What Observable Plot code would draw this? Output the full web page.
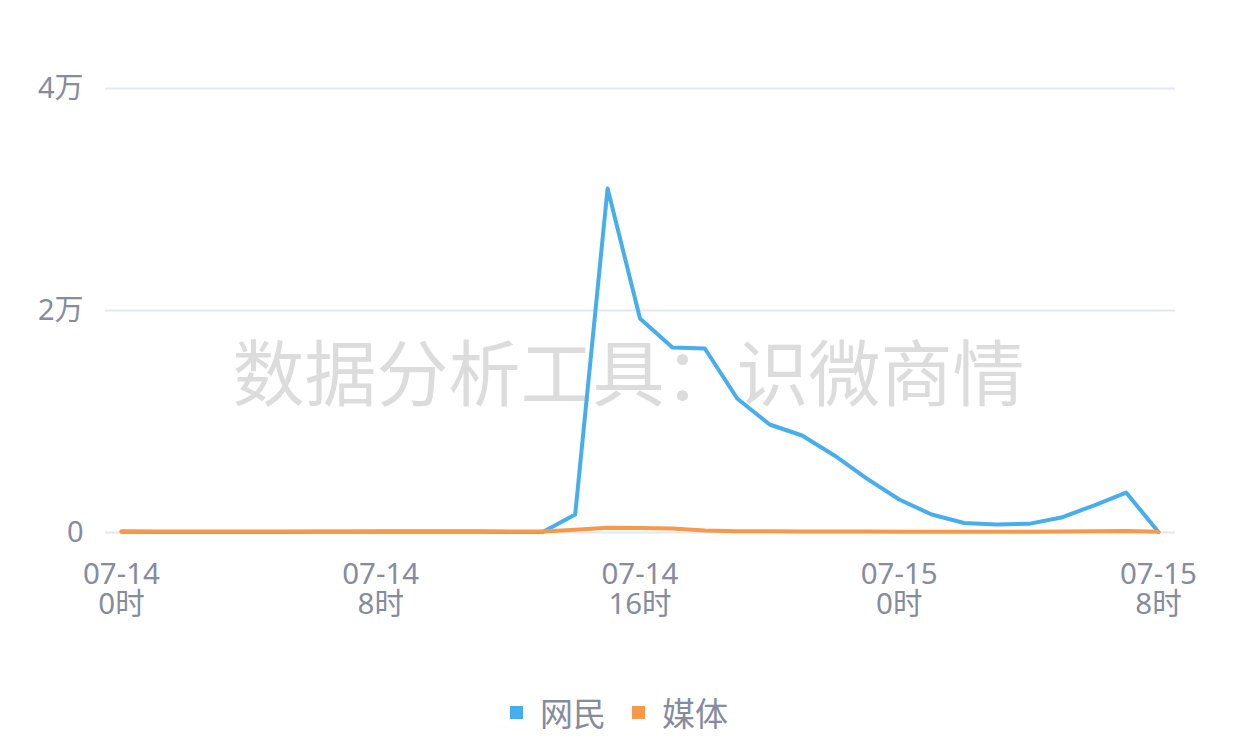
<!DOCTYPE html>
<html><head><meta charset="utf-8">
<script src="https://cdn.jsdelivr.net/npm/d3@7"></script>
<script src="https://cdn.jsdelivr.net/npm/@observablehq/plot@0.6"></script>
<style>
body{margin:0;background:#fff;font-family:"Noto Sans","Noto Sans CJK SC",sans-serif;}
#legend{display:flex;justify-content:center;align-items:center;font-size:33px;color:#868b9e;height:72px;padding-right:12px}
#legend .sw{display:inline-block;width:13px;height:13px;margin-right:17px}
#legend .it{display:flex;align-items:center;margin:0 13px}
</style></head>
<body>
<div id="chart"></div>
<div id="legend"></div>
<script>
const hours = d3.range(0, 33);
const netizen = [60,50,40,40,50,50,60,60,70,70,70,60,50,40,1620,31000,19280,16670,16580,12070,9730,8740,6940,4860,2970,1620,860,720,780,1350,2430,3600,50];
const media = [120,100,90,80,80,90,90,100,110,110,110,110,100,100,250,430,400,360,170,120,110,100,90,80,70,60,60,60,70,80,110,130,60];
const seriesNames = ["网民", "媒体"];
const seriesColors = ["#47aeee", "#f8994a"];
const xTicks = [0, 8, 16, 24, 32];
const xTickLabels = ["07-14\n0时", "07-14\n8时", "07-14\n16时", "07-15\n0时", "07-15\n8时"];
const yTicks = [0, 20000, 40000];
const yTickLabels = ["0", "2万", "4万"];
const watermark = ["数据分析工具：识微商情"];

const rows = [];
hours.forEach((h, i) => {
  rows.push({h, v: netizen[i], s: seriesNames[0]});
  rows.push({h, v: media[i], s: seriesNames[1]});
});

const chart = Plot.plot({
  width: 1250,
  height: 676,
  marginLeft: 105,
  marginRight: 75,
  marginTop: 88,
  marginBottom: 144,
  style: {fontFamily: '"Noto Sans","Noto Sans CJK SC",sans-serif', background: "#fff"},
  x: {domain: [0, 32], insetLeft: 16, insetRight: 17},
  y: {domain: [0, 40000]},
  color: {domain: seriesNames, range: seriesColors},
  marks: [
    Plot.ruleY(yTicks, {stroke: "#e2e7f1", strokeWidth: 2}),
    Plot.text(watermark, {frameAnchor: "middle", dx: -12, dy: 66, fontSize: 72, fill: "#dcdcdc", fontFamily: '"Noto Sans CJK SC",sans-serif', text: d => d}),
    Plot.axisY({ticks: yTicks, tickFormat: d => yTickLabels[yTicks.indexOf(d)], tickSize: 0, tickPadding: 22, fontSize: 29, fill: "#868b9e", label: null}),
    Plot.axisX({ticks: xTicks, tickFormat: d => xTickLabels[xTicks.indexOf(d)], tickSize: 0, tickPadding: 31, fontSize: 29.5, fill: "#868b9e", lineHeight: 1.0, label: null}),
    Plot.line(rows, {x: "h", y: "v", stroke: "s", z: "s", strokeWidth: 4, strokeLinejoin: "round"})
  ]
});
document.getElementById("chart").appendChild(chart);

const lg = document.getElementById("legend");
seriesNames.forEach((n, i) => {
  const it = document.createElement("span");
  it.className = "it";
  it.innerHTML = `<span class="sw" style="background:${seriesColors[i]}"></span>${n}`;
  lg.appendChild(it);
});
</script>
</body></html>
